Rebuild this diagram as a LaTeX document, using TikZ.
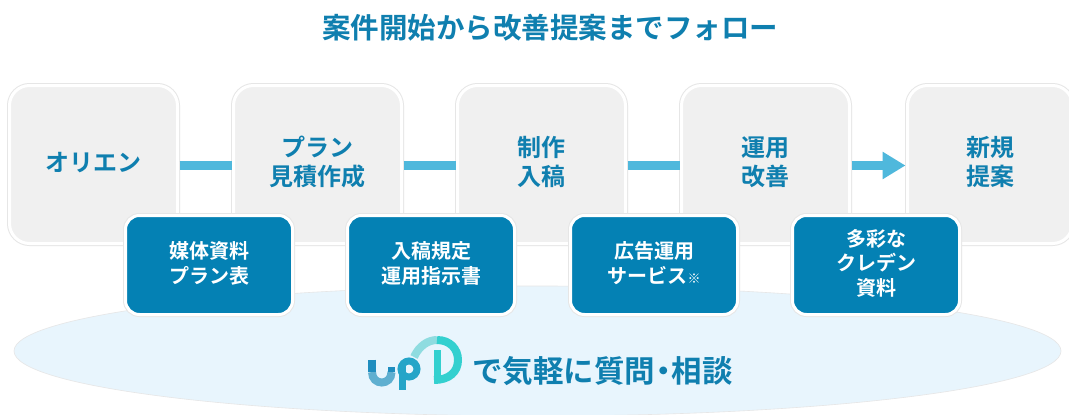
\documentclass[tikz,border=0pt]{standalone}
\usepackage{fontspec}
\setmainfont{Noto Sans CJK JP}[BoldFont={Noto Sans CJK JP Bold}]
\usetikzlibrary{arrows.meta,shapes.geometric}
\definecolor{tealtxt}{HTML}{0F7FAF}
\definecolor{stepfill}{HTML}{F0F0F0}
\definecolor{edgegray}{HTML}{E6E6E6}
\definecolor{bluebox}{HTML}{0481B4}
\definecolor{connblue}{HTML}{4FB8DC}
\definecolor{ovalfill}{HTML}{E8F5FD}
\definecolor{logoA}{HTML}{1F8DBF}
\definecolor{logoD}{HTML}{5FAFD0}
\definecolor{logoP}{HTML}{25A5C8}
\definecolor{logoB}{HTML}{33D0CF}
\definecolor{logoC}{HTML}{8FDCE0}
\newcommand{\upbox}[1]{\begin{tabular}{@{}c@{}}\rule{0pt}{1.1\ht\strutbox}#1\end{tabular}}
\tikzset{
  stepbox/.style={rectangle,rounded corners=20pt,minimum width=168pt,minimum height=158pt,
    fill=stepfill,draw=white,line width=3pt,preaction={draw=edgegray,line width=5pt},
    anchor=north west,outer sep=0pt,text=tealtxt,font=\fontsize{24}{29}\selectfont\bfseries,inner sep=0pt},
  infobox/.style={rectangle,rounded corners=14pt,minimum width=167pt,minimum height=99pt,
    fill=bluebox,draw=white,line width=3pt,preaction={draw=edgegray,line width=5pt},
    anchor=north west,outer sep=0pt,text=white,font=\fontsize{20}{24.5}\selectfont\bfseries,inner sep=0pt},
  link/.style={draw=connblue,line width=9pt,shorten <=2pt,shorten >=2pt},
  logostroke/.style={line width=8pt,line cap=butt},
}
\begin{document}
\begin{tikzpicture}[x=1pt,y=-1pt]
\useasboundingbox (0,0) rectangle (1069,415);
\fill[white] (0,0) rectangle (1069,415);
\begin{scope}
\clip (0,0) rectangle (1069,415);
\node[draw=edgegray,line width=.6pt,fill=ovalfill,ellipse,minimum width=1047pt,minimum height=130pt,inner sep=0pt] (oval) at (537.5,351) {};
\node[stepbox] (s1) at (9.5,85.5) {\upbox{オリエン}};
\node[stepbox] (s2) at (233.5,85.5) {\upbox{プラン\\見積作成}};
\node[stepbox] (s3) at (457.5,85.5) {\upbox{制作\\入稿}};
\node[stepbox] (s4) at (681.5,85.5) {\upbox{運用\\改善}};
\node[stepbox,minimum width=165pt] (s5) at (907.5,85.5) {\upbox{新規\\提案}};
\draw[link] ([yshift=-1pt]s1.east) -- ([yshift=-1pt]s2.west);
\draw[link] ([yshift=-1pt]s2.east) -- ([yshift=-1pt]s3.west);
\draw[link] ([yshift=-1pt]s3.east) -- ([yshift=-1pt]s4.west);
\draw[link,-{Triangle[length=23pt,width=26pt]}] ([yshift=-1pt]s4.east) -- ([yshift=-1pt]s5.west);
\node[infobox] (i1) at (125.5,215.5) {\upbox{媒体資料\\プラン表}};
\node[infobox] (i2) at (347.5,215.5) {\upbox{入稿規定\\運用指示書}};
\node[infobox] (i3) at (570.5,215.5) {\upbox{広告運用\\サービス{\fontsize{13}{13}\selectfont ※}}};
\node[infobox] (i4) at (792.5,215.5) {\upbox{多彩な\\クレデン\\資料}};
\end{scope}
\node[font=\fontsize{28.5}{30}\selectfont\bfseries,text=tealtxt] (title) at (550,28) {案件開始から改善提案までフォロー};
\node[font=\fontsize{30.5}{32}\selectfont\bfseries,text=tealtxt,anchor=west,inner sep=0pt] (cap) at (472,371) {で気軽に質問\hspace{-7pt}・\hspace{-7pt}相談};
% logo
\draw[logostroke,logoD] (372,372) .. controls (372,386) and (391.5,386) .. (391.5,372);
\draw[logostroke,logoA] (372,359.5) -- (372,372);
\draw[logostroke,line width=7pt,logoA] (391.5,372) -- (391.5,367);
\draw[logostroke,line width=7pt,logoP] (402,366) -- (402,390);
\draw[logostroke,line width=7pt,logoP] (409,369) circle (8);
\draw[logostroke,line width=7pt,logoB] (437,350) -- (437,380);
\draw[logostroke,logoC] (414,357) .. controls (419,346) and (428,340) .. (437,340);
\draw[logostroke,logoB] (437,340) .. controls (450,340) and (458,349) .. (458,360) .. controls (458,372) and (449,380) .. (434,380);
\end{tikzpicture}
\end{document}
